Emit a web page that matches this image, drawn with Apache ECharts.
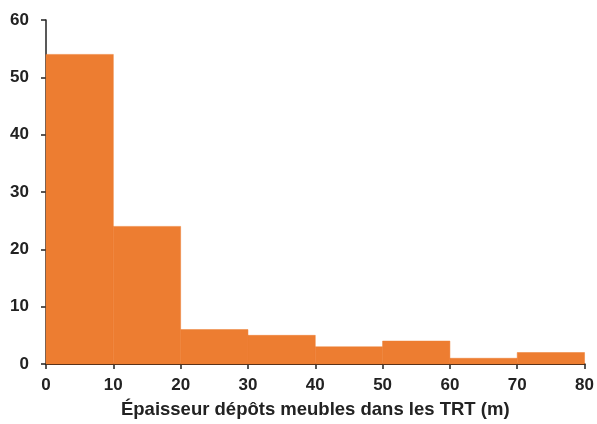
<!DOCTYPE html>
<html>
<head>
<meta charset="utf-8">
<script src="https://cdn.jsdelivr.net/npm/echarts@6/dist/echarts.min.js"></script>
<style>
  html, body { margin: 0; padding: 0; background: #fff; }
  #chart { width: 597px; height: 424px; }
</style>
</head>
<body>
<div id="chart"></div>
<script>
// bin edges (m) and counts
const binStarts = [0, 10, 20, 30, 40, 50, 60, 70];
const binWidth = 10;
const counts = [54, 24, 6, 5, 3, 4, 1, 2];
const xTicks = [0, 10, 20, 30, 40, 50, 60, 70, 80];
const yTicks = [0, 10, 20, 30, 40, 50, 60];
const xTitle = 'Épaisseur dépôts meubles dans les TRT (m)';

const data = binStarts.map((s, i) => [s, s + binWidth, counts[i]]);

let myChart = echarts.init(document.getElementById('chart'));
let option = {
  animation: false,
  grid: { left: 46, right: 12, top: 20, bottom: 58 },
  xAxis: {
    type: 'value',
    min: xTicks[0],
    max: xTicks[xTicks.length - 1],
    interval: 10,
    name: xTitle,
    nameLocation: 'middle',
    nameGap: 36,
    nameTextStyle: { color: '#222', fontSize: 18.5, fontWeight: 'bold', fontFamily: 'Liberation Sans', verticalAlign: 'top' },
    axisLine: { lineStyle: { color: '#2a1a12', width: 2 } },
    axisTick: { show: true, length: 5, lineStyle: { color: '#222', width: 1.5 } },
    axisLabel: { color: '#222', fontSize: 17, fontWeight: 'bold', fontFamily: 'Liberation Sans', margin: 13 },
    splitLine: { show: false }
  },
  yAxis: {
    type: 'value',
    min: yTicks[0],
    max: yTicks[yTicks.length - 1],
    interval: 10,
    axisLine: { show: true, lineStyle: { color: '#222', width: 1.5 } },
    axisTick: { show: true, length: 5, lineStyle: { color: '#222', width: 1.5 } },
    axisLabel: { color: '#222', fontSize: 17, fontWeight: 'bold', fontFamily: 'Liberation Sans', margin: 17 },
    splitLine: { show: false }
  },
  series: [{
    type: 'custom',
    data: data,
    encode: { x: [0, 1], y: 2 },
    renderItem: function (params, api) {
      const p0 = api.coord([api.value(0), api.value(2)]);
      const p1 = api.coord([api.value(1), 0]);
      return {
        type: 'rect',
        shape: { x: p0[0], y: p0[1], width: p1[0] - p0[0], height: p1[1] - p0[1] },
        style: { fill: '#ED7D31', stroke: '#ED7D31', lineWidth: 0.5 }
      };
    },
    z: 1
  }]
};
myChart.setOption(option);
</script>
</body>
</html>
